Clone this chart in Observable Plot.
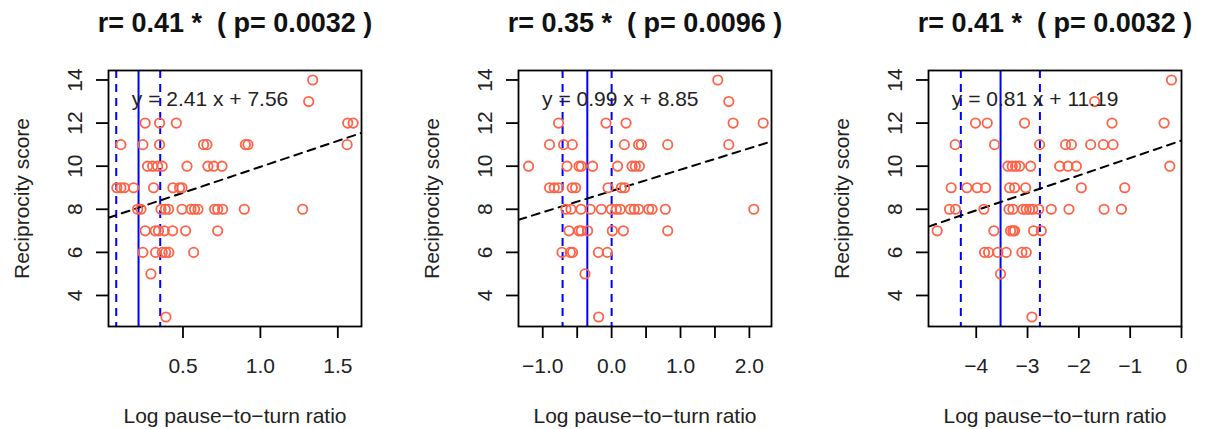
<!DOCTYPE html>
<html>
<head>
<meta charset="utf-8">
<script src="https://cdn.jsdelivr.net/npm/d3@7"></script>
<script src="https://cdn.jsdelivr.net/npm/@observablehq/plot@0.6"></script>
<style>
  body { margin: 0; background: #fff; }
  #wrap { position: relative; width: 1205px; height: 429px; overflow: hidden; }
  .panel { position: absolute; top: 0; }
  svg text { white-space: pre; }
</style>
</head>
<body>
<div id="wrap"></div>
<script>
// ---------- data ----------
const titles = ["r= 0.41 *  ( p= 0.0032 )", "r= 0.35 *  ( p= 0.0096 )", "r= 0.41 *  ( p= 0.0032 )"];
const xLabel = "Log pause\u2212to\u2212turn ratio";
const yLabel = "Reciprocity score";
const equations = ["y = 2.41 x + 7.56", "y = 0.99 x + 8.85", "y = 0.81 x + 11.19"];
const slopes = [2.41, 0.99, 0.81];
const intercepts = [7.56, 8.85, 11.19];
const centers = [0.213, -0.353, -3.526];
const lowerBounds = [0.069, -0.712, -4.30];
const upperBounds = [0.353, 0.0, -2.759];
const eqPosX = [0.675, 0.126, -2.853];
const eqPosY = 13.1;

const xDomains = [[0.019, 1.653], [-1.352, 2.321], [-4.93, 0.0]];
const yDomain = [2.56, 14.44];

const xTicks1 = [0.5, 1.0, 1.5];
const xTickLabels1 = ["0.5", "1.0", "1.5"];
const xTicks2 = [-1.0, -0.5, 0.0, 0.5, 1.0, 1.5, 2.0];
const xTickLabels2 = ["\u22121.0", "", "0.0", "", "1.0", "", "2.0"];
const xTicks3 = [-4, -3, -2, -1, 0];
const xTickLabels3 = ["\u22124", "\u22123", "\u22122", "\u22121", "0"];
const yTicks = [4, 6, 8, 10, 12, 14];
const yTickLabels = ["4", "6", "8", "10", "12", "14"];

// panel 1 points
const p1X = [1.338,
  1.312,
  0.256, 0.349, 0.457, 1.564, 1.599,
  0.099, 0.241, 0.349, 0.633, 0.655, 0.903, 0.920, 1.560,
  0.271, 0.304, 0.336, 0.366, 0.526, 0.661, 0.698, 0.752,
  0.073, 0.099, 0.121, 0.181, 0.310, 0.435, 0.478, 0.494,
  0.207, 0.229, 0.358, 0.386, 0.407, 0.494, 0.552, 0.575, 0.597, 0.704, 0.724, 0.756, 0.896, 1.273,
  0.256, 0.321, 0.342, 0.379, 0.433, 0.517, 0.724,
  0.241, 0.323, 0.366, 0.388, 0.409, 0.569,
  0.293,
  0.390];
const p1Y = [14,
  13,
  12, 12, 12, 12, 12,
  11, 11, 11, 11, 11, 11, 11, 11,
  10, 10, 10, 10, 10, 10, 10, 10,
  9, 9, 9, 9, 9, 9, 9, 9,
  8, 8, 8, 8, 8, 8, 8, 8, 8, 8, 8, 8, 8, 8,
  7, 7, 7, 7, 7, 7, 7,
  6, 6, 6, 6, 6, 6,
  5,
  3];

// panel 2 points
const p2X = [1.541,
  1.701,
  -0.770, -0.082, 0.209, 1.764, 2.200,
  -0.901, -0.697, -0.571, 0.185, 0.392, 0.432, 0.814, 1.701,
  -1.206, -0.648, -0.474, -0.440, -0.276, 0.087, 0.297, 0.344, 0.403,
  -0.901, -0.833, -0.770, -0.571, -0.523, -0.052, 0.141, 0.189,
  -0.663, -0.590, -0.445, -0.310, -0.150, -0.004, 0.068, 0.126, 0.272, 0.330, 0.392, 0.538, 0.587, 0.780, 2.064,
  -0.619, -0.474, -0.440, -0.349, 0.010, 0.170, 0.814,
  -0.721, -0.600, -0.567, -0.193, -0.062,
  -0.387,
  -0.189];
const p2Y = [14,
  13,
  12, 12, 12, 12, 12,
  11, 11, 11, 11, 11, 11, 11, 11,
  10, 10, 10, 10, 10, 10, 10, 10, 10,
  9, 9, 9, 9, 9, 9, 9, 9,
  8, 8, 8, 8, 8, 8, 8, 8, 8, 8, 8, 8, 8, 8, 8,
  7, 7, 7, 7, 7, 7, 7,
  6, 6, 6, 6, 6,
  5,
  3];

// panel 3 points
const p3X = [-0.195,
  -1.692,
  -4.014, -3.785, -3.058, -1.354, -0.339,
  -4.410, -3.643, -2.765, -2.258, -2.146, -1.770, -1.522, -1.334,
  -3.383, -3.298, -3.233, -3.155, -2.940, -2.374, -2.212, -2.049, -0.228,
  -4.488, -4.183, -3.981, -3.818, -3.350, -3.252, -3.037, -1.951, -1.106,
  -4.521, -4.404, -3.851, -3.363, -3.285, -3.090, -3.025, -2.960, -2.896, -2.784, -2.537, -2.193, -1.509, -1.171,
  -4.761, -3.656, -3.331, -3.285, -3.252, -2.882, -2.732,
  -3.838, -3.760, -3.578, -3.415, -3.110, -3.025,
  -3.526,
  -2.915];
const p3Y = [14,
  13,
  12, 12, 12, 12, 12,
  11, 11, 11, 11, 11, 11, 11, 11,
  10, 10, 10, 10, 10, 10, 10, 10, 10,
  9, 9, 9, 9, 9, 9, 9, 9, 9,
  8, 8, 8, 8, 8, 8, 8, 8, 8, 8, 8, 8, 8, 8,
  7, 7, 7, 7, 7, 7, 7,
  6, 6, 6, 6, 6, 6,
  5,
  3];

// ---------- drawing ----------
const panelsX = [p1X, p2X, p3X];
const panelsY = [p1Y, p2Y, p3Y];
const xTickSets = [xTicks1, xTicks2, xTicks3];
const xTickLabelSets = [xTickLabels1, xTickLabels2, xTickLabels3];
const panelLeft = [0, 410, 820];

const FONT = "'Liberation Sans', Arial, Helvetica, sans-serif";
const POINT = "#FF6347";
const wrap = document.getElementById("wrap");

for (let k = 0; k < 3; k++) {
  const pts = panelsX[k].map((x, i) => ({x, y: panelsY[k][i]}));
  const dom = xDomains[k];
  const fit = dom.map(x => ({x, y: slopes[k] * x + intercepts[k]}));
  const xLabMap = new Map(xTickSets[k].map((t, i) => [t, xTickLabelSets[k][i]]));
  const yLabMap = new Map(yTicks.map((t, i) => [t, yTickLabels[i]]));

  const chart = Plot.plot({
    width: 385,
    height: 429,
    marginTop: 70,
    marginBottom: 103,
    marginLeft: 108,
    marginRight: 24,
    style: {fontFamily: FONT, fontSize: "21px", color: "#000", background: "#fff"},
    x: {domain: dom},
    y: {domain: yDomain},
    marks: [
      Plot.ruleX([centers[k]], {stroke: "#0000FF", strokeWidth: 2}),
      Plot.ruleX([lowerBounds[k], upperBounds[k]], {stroke: "#0000FF", strokeWidth: 2, strokeDasharray: "8,6"}),
      Plot.line(fit, {x: "x", y: "y", stroke: "#000", strokeWidth: 2, strokeDasharray: "8,6", clip: true}),
      Plot.dot(pts, {x: "x", y: "y", r: 4.7, stroke: POINT, strokeWidth: 1.8, fill: "none"}),
      Plot.text([equations[k]], {x: () => eqPosX[k], y: () => eqPosY, text: d => d, fontSize: 21, fill: "#222"}),
      Plot.frame({stroke: "#000", strokeWidth: 1.8}),
      Plot.axisX({ticks: xTickSets[k], tickFormat: d => xLabMap.get(d) ?? "", tickSize: 12, tickPadding: 20, strokeWidth: 1.8, fill: "#222", label: null, fontSize: 21}),
      Plot.axisY({ticks: yTicks, tickFormat: d => yLabMap.get(d) ?? "", tickSize: 12, tickPadding: 15, tickRotate: -90, strokeWidth: 1.8, fill: "#222", label: null, fontSize: 21}),
      Plot.text([titles[k]], {frameAnchor: "top", dy: -47, textAnchor: "middle", lineAnchor: "middle", text: d => d, fontSize: 27, fontWeight: "bold", fill: "#111"}),
      Plot.text([xLabel], {frameAnchor: "bottom", dy: 90, textAnchor: "middle", lineAnchor: "middle", text: d => d, fontSize: 21, fill: "#222"}),
      Plot.text([yLabel], {frameAnchor: "left", dx: -86, rotate: -90, textAnchor: "middle", lineAnchor: "middle", text: d => d, fontSize: 21, fill: "#222"})
    ]
  });
  const div = document.createElement("div");
  div.className = "panel";
  div.style.left = panelLeft[k] + "px";
  div.appendChild(chart);
  wrap.appendChild(div);
}
</script>
</body>
</html>
